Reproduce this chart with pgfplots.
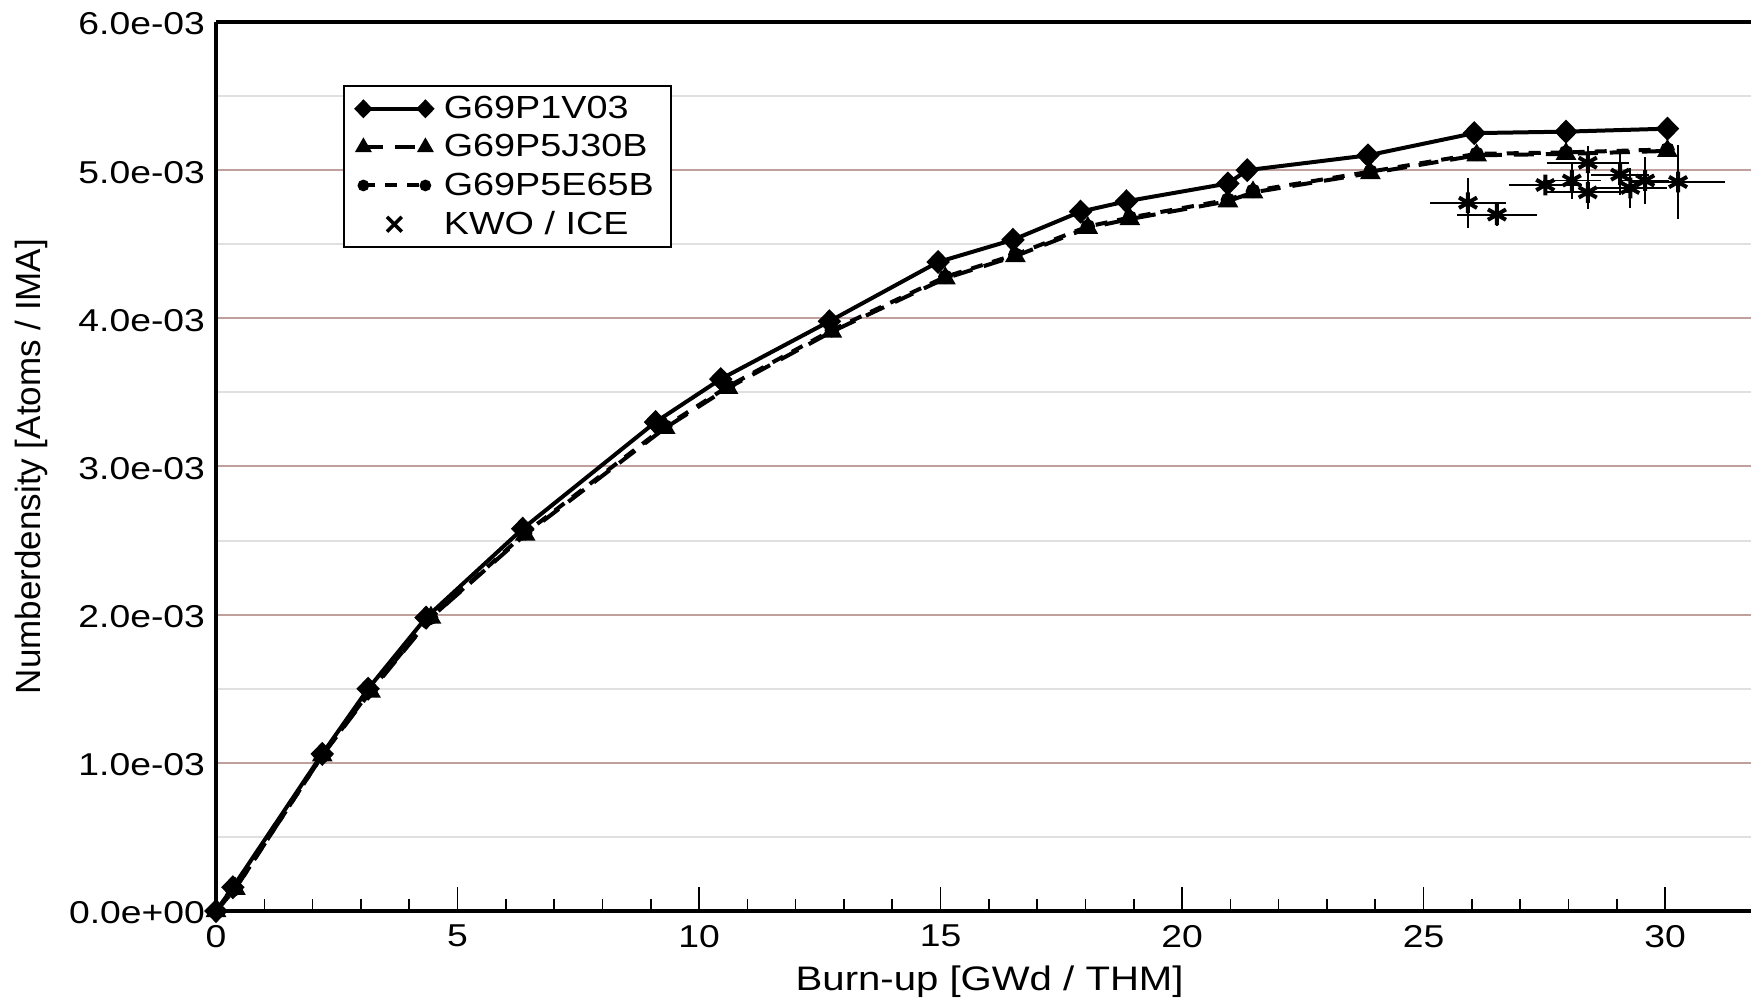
\documentclass[border=0pt]{standalone}
\usepackage{fontspec}
\setmainfont{Liberation Sans}[FakeStretch=1.18]
\newfontfamily\plainsans{Liberation Sans}
\usepackage{pgfplots}
\pgfplotsset{compat=1.18}
\definecolor{gridmaj}{RGB}{192,160,156}
\definecolor{gridmin}{RGB}{224,224,224}
\pgfplotsset{
  endslegend/.style={legend image code/.code={\draw[mark repeat=1,mark phase=1,##1,every mark/.append style={scale=0.72}] plot coordinates {(0pt,0pt) (31pt,0pt)};}},
  centerlegend/.style={legend image code/.code={\draw[##1] plot coordinates {(15.5pt,0pt)};}},
}

\pgfplotstableread{
x y
0 0
0.35 0.16e-3
2.2 1.06e-3
3.15 1.50e-3
4.35 1.98e-3
6.35 2.58e-3
9.1 3.30e-3
10.45 3.59e-3
12.7 3.98e-3
14.95 4.38e-3
16.5 4.53e-3
17.9 4.72e-3
18.85 4.79e-3
20.95 4.91e-3
21.35 5.00e-3
23.85 5.10e-3
26.05 5.25e-3
27.95 5.26e-3
30.05 5.28e-3
}\seriesA

\pgfplotstableread{
x y
0 0
0.4 0.15e-3
2.2 1.05e-3
3.2 1.48e-3
4.45 1.98e-3
6.4 2.54e-3
9.3 3.26e-3
10.6 3.53e-3
12.75 3.91e-3
15.1 4.27e-3
16.55 4.42e-3
18.05 4.61e-3
18.92 4.67e-3
20.95 4.79e-3
21.47 4.85e-3
23.9 4.98e-3
26.1 5.10e-3
27.95 5.11e-3
30.05 5.13e-3
}\seriesB

\pgfplotstableread{
x y
0 0
0.4 0.15e-3
2.2 1.05e-3
3.2 1.49e-3
4.45 1.98e-3
6.4 2.55e-3
9.3 3.27e-3
10.6 3.54e-3
12.75 3.92e-3
15.1 4.28e-3
16.55 4.43e-3
18.05 4.62e-3
18.92 4.68e-3
20.95 4.80e-3
21.47 4.86e-3
23.9 4.99e-3
26.1 5.11e-3
27.95 5.12e-3
30.05 5.14e-3
}\seriesC

\pgfplotstableread{
x y ex ey
25.92 4.78e-3 0.78 0.17e-3
26.52 4.70e-3 0.82 0.08e-3
27.52 4.90e-3 0.76 0.06e-3
28.07 4.93e-3 0.60 0.125e-3
28.40 5.05e-3 0.85 0.11e-3
28.40 4.85e-3 0.85 0.11e-3
29.07 4.97e-3 0.60 0.14e-3
29.28 4.88e-3 0.76 0.135e-3
29.59 4.93e-3 0.50 0.16e-3
30.27 4.92e-3 0.97 0.25e-3
}\seriesK

\begin{document}
\begin{tikzpicture}
\useasboundingbox (0,0) rectangle (875.5pt,498.5pt);
\begin{axis}[
  at={(108pt,43pt)}, anchor=south west,
  scale only axis, width=767.5pt, height=444.5pt,
  xmin=0, xmax=31.78, ymin=0, ymax=0.006,
  clip=false,
  axis lines*=left,
  axis line style={line width=1.6pt},
  xtick={0,5,10,15,20,25,30},
  xticklabels={0,5,10,15,20,25,30},
  minor x tick num=4,
  ytick={0,0.001,0.002,0.003,0.004,0.005,0.006},
  yticklabels={0.0e+00,1.0e-03,2.0e-03,3.0e-03,4.0e-03,5.0e-03,6.0e-03},
  minor y tick num=1,
  scaled y ticks=false, scaled x ticks=false,
  tick align=inside,
  major tick length=12pt, minor tick length=6pt,
  xtick style={black, line width=0.8pt},
  ytick style={draw=none},
  ymajorgrids, yminorgrids,
  major grid style={gridmaj, line width=1pt},
  minor grid style={gridmin, line width=1pt},
  /pgf/number format/assume math mode=true,
  tick label style={font=\fontsize{15.8}{18}\selectfont},
  yticklabel style={xshift=-2pt, yshift=-1pt},
  xticklabel style={yshift=-3.5pt},
  xlabel={Burn-up [GWd / THM]},
  xlabel style={font=\fontsize{17}{20}\selectfont, at={(axis description cs:0.504,-0.079)}, anchor=center},
  ylabel={Numberdensity [Atoms / IMA]},
  ylabel style={font=\plainsans\fontsize{17.5}{20}\selectfont, at={(axis description cs:-0.1199,0.5)}, anchor=center},
  legend style={at={(axis description cs:0.0827,0.929)}, anchor=north west,
    draw=black, line width=1pt, inner xsep=6.5pt, inner ysep=3pt,
    font=\fontsize{16}{18}\selectfont,
    nodes={inner sep=2pt}, column sep=4pt, row sep=2.5pt},
  legend cell align=left,
]
\addplot[black, line width=2pt, mark=diamond*, mark size=4.6pt, mark options={solid, xscale=1.3}, endslegend]
  table[x=x,y=y] {\seriesA};
\addlegendentry{G69P1V03}
\addplot[black, line width=2pt, dash pattern=on 10pt off 6pt, mark=triangle*, mark size=4pt, mark options={solid}, endslegend]
  table[x=x,y=y] {\seriesB};
\addlegendentry{G69P5J30B}
\addplot[black, line width=2pt, dash pattern=on 6pt off 5pt, mark=*, mark size=2.6pt, mark options={solid}, endslegend]
  table[x=x,y=y] {\seriesC};
\addlegendentry{G69P5E65B}
\addplot[black, forget plot, only marks, mark=asterisk, mark size=5.2pt, mark options={line width=2pt},
  error bars/.cd, x dir=both, x explicit, y dir=both, y explicit,
  error mark=none, error bar style={line width=0.9pt, black}]
  table[x=x,y=y,x error=ex,y error=ey] {\seriesK};
\addlegendimage{black, only marks, mark=x, mark size=5.2pt, line width=1.8pt, centerlegend}
\addlegendentry{KWO / ICE}
\draw[line width=1.6pt] (rel axis cs:0,1) -- (rel axis cs:1,1);
\end{axis}
\end{tikzpicture}
\end{document}
